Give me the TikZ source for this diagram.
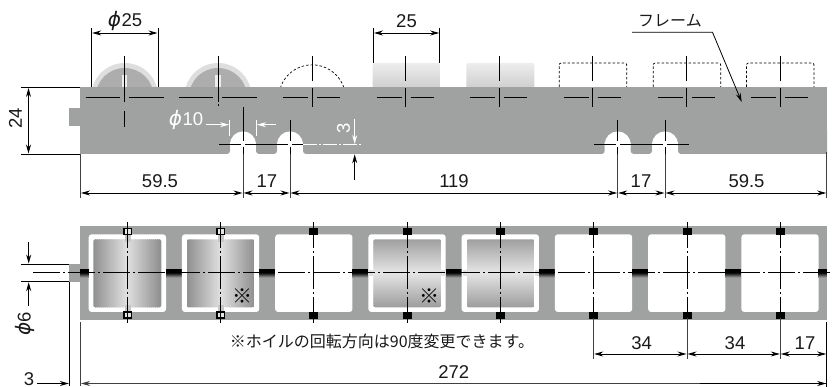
\documentclass[tikz,border=0pt]{standalone}
\usepackage{fontspec}
\setmainfont{Liberation Sans}
\newfontfamily\cjkjp{Noto Sans CJK JP}
\newfontfamily\phifont[ItalicFont=DejaVu Sans Oblique]{DejaVu Sans}
\usetikzlibrary{arrows.meta}
\definecolor{framegray}{HTML}{A0A2A1}
\tikzset{
  x=1pt,y=-1pt,
  >={Stealth[length=9pt,width=5pt]},
  cl/.style={line width=0.8pt,black},
  dim/.style={line width=0.8pt,black},
  ext/.style={line width=0.7pt,black!75},
  whiteline/.style={line width=0.8pt,white},
  num/.style={font=\fontsize{18.5}{20}\selectfont,inner sep=0pt,text=black!90},
  wnum/.style={num,text=white},
  jp/.style={font=\fontsize{16}{18}\cjkjp,inner sep=0pt,text=black!90},
  mark sym/.style={font=\fontsize{20}{20}\cjkjp,inner sep=0pt,text=black},
  dashedsil/.style={line width=0.7pt,black,dash pattern=on 2.5pt off 2pt},
}
\newcommand{\phis}{{\phifont\itshape\fontsize{20}{18}\selectfont ϕ}}
\newcommand{\wheelH}[1]{%
  \begin{scope}
    \clip[rounded corners=2pt] (#1,239.3) rectangle (#1+68,307.3);
    \foreach \k in {0,...,33}{
      \pgfmathsetmacro{\val}{44-32*(1-abs(2*(\k+0.5)/34-1))}
      \fill[black!\val] (#1+2*\k,239) rectangle (#1+2*\k+2.6,308);
    }
  \end{scope}}
\newcommand{\wheelV}[1]{%
  \begin{scope}
    \clip[rounded corners=2pt] (#1,239.3) rectangle (#1+68,307.3);
    \foreach \k in {0,...,33}{
      \pgfmathsetmacro{\val}{38-28*(1-abs(2*(\k+0.5)/34-1))}
      \fill[black!\val] (#1,239.3+2*\k) rectangle (#1+68,239.3+2*\k+2.6);
    }
  \end{scope}}
\newcommand{\band}[2]{%
  \fill[black] (#1,269) rectangle (#2,272.6);
  \foreach \k in {0,...,9}{
    \pgfmathsetmacro{\val}{\k*10}
    \fill[framegray!\val!black] (#1,272.4+0.56*\k) rectangle (#2,272.4+0.56*\k+0.8);
  }}
\begin{document}
\begin{tikzpicture}
\useasboundingbox (0,0) rectangle (838,387);
% ---------- TOP VIEW: wheels behind the frame
\foreach \c in {124.7,218}{
  \fill[black!13] (\c,96.5) circle (33.5pt);
  \fill[black!32] (\c,97) circle (29pt);
  \fill[black!7] (\c-2.7,75) rectangle (\c+2.7,88);
}
\draw[dashedsil] (280.3,88) arc[start angle=162,end angle=18,radius=33.5pt];
\foreach \c in {405.7,499.3}{
  \shade[top color=black!7,bottom color=black!20,rounded corners=1.5pt] (\c-33,63) rectangle (\c+35,90);
}
\foreach \c in {592.7,686.7,780}{
  \draw[dashedsil,rounded corners=2pt] (\c-33.5,87) -- (\c-33.5,63) -- (\c+34,63) -- (\c+34,87);
}
% ---------- TOP VIEW: frame
\fill[framegray] (80,87) rectangle (827,142);
\fill[framegray] (69,108) rectangle (80,126);
\foreach \a/\b in {70/230,256/277,303/604.7,630.7/652,678/837}{
  \begin{scope}
    \clip (80,100) rectangle (827,160);
    \fill[framegray,rounded corners=3pt] (\a,130) -- (\a,154) -- (\b,154) -- (\b,130) -- cycle;
  \end{scope}
}
\foreach \c in {243,290,617.7,665}{
  \fill[white] (\c,144.4) circle (13pt);
}
% centre lines of the wheels
\foreach \c in {124.7,218}{
  \draw[cl] (\c-39,97.3) -- (\c-5,97.3) (\c+4,97.3) -- (\c+39,97.3);
  \draw[cl] (\c,56) -- (\c,102) ;
}
\draw[cl] (124.7,111) -- (124.7,127);
\draw[cl] (218,104) -- (218,106);
\foreach \c in {312,405.7,499.3,592.7,686.7,780}{
  \draw[cl] (\c-29,97.3) -- (\c-4,97.3) (\c+5,97.3) -- (\c+28,97.3);
  \draw[cl] (\c,56) -- (\c,81) (\c,88) -- (\c,107.5);
}
% notch centre lines
\draw[cl] (219,144.4) -- (241,144.4) (245,144.4) -- (288,144.4) (292,144.4) -- (303,144.4);
\draw[whiteline,dash pattern=on 14pt off 2pt on 2pt off 2pt] (303,144.4) -- (362,144.4);
\draw[cl] (594,144.4) -- (616,144.4) (620,144.4) -- (663,144.4) (667,144.4) -- (689,144.4);
\draw[cl] (243,107) -- (243,141) (290,120) -- (290,141) (617.7,120) -- (617.7,141) (665,120) -- (665,141);
\draw[cl] (243,147) -- (243,154) (290,147) -- (290,154) (617.7,147) -- (617.7,154) (665,147) -- (665,154);
% extension lines
\draw[ext] (80,154) -- (80,198) (243,154) -- (243,198) (290,154) -- (290,198) (617.7,154) -- (617.7,198) (665,154) -- (665,198) (826.7,152) -- (826.7,198);
% bottom dims of the top view
\draw[dim,<->] (81,193) -- (242.5,193);
\draw[dim,<->] (243.5,193) -- (289.5,193);
\draw[dim,<->] (290.5,193) -- (617.2,193);
\draw[dim,<->] (618.2,193) -- (664.5,193);
\draw[dim,<->] (665.5,193) -- (826.2,193);
\node[num] (t595a) at (160,181) {59.5};
\node[num] (t17a) at (267,181) {17};
\node[num] (t119) at (454,181) {119};
\node[num] (t17b) at (641,181) {17};
\node[num] (t595b) at (746.5,181) {59.5};
% 24
\draw[dim] (21,87) -- (80,87) (21,154.3) -- (80,154.3);
\draw[dim,<->] (28.5,88) -- (28.5,153.5);
\node[num,rotate=90] (t24) at (15.5,118.5) {24};
% phi 25
\draw[dim] (91.7,28) -- (91.7,87) (158,28) -- (158,87);
\draw[dim,<->] (92.2,33) -- (157.5,33);
\node[num] (tp25) at (125,20.5) {\phis\hspace{0.5pt}25};
% 25
\draw[dim] (373.5,28) -- (373.5,63) (439.7,28) -- (439.7,63);
\draw[dim,<->] (374,33) -- (439.2,33);
\node[num] (t25) at (406.5,21) {25};
% frame label
\node[jp] (tfr) at (670,21) {フレーム};
\coordinate (lead1) at (632,32.3);
\coordinate (lead2) at (712.5,32.3);
\coordinate (lead3) at (741.7,102);
\draw[dim,->] (lead1) -- (lead2) -- (lead3);
% phi 10
\node[wnum] (tp10) at (186,120) {\phis\hspace{0.5pt}10};
\draw[line width=0.8pt,white,->] (206,124.7) -- (229,124.7);
\draw[line width=0.8pt,white,->] (275.5,124.7) -- (257,124.7);
\draw[line width=0.8pt,white] (229.7,120) -- (229.7,136) (256.5,120) -- (256.5,136);
% 3
\node[wnum,rotate=90] (t3a) at (343.5,128) {3};
\draw[line width=0.8pt,white,->] (354.7,119) -- (354.7,144);
\draw[dim,->] (354.7,180) -- (354.7,154.3);
% ---------- BOTTOM VIEW: frame
\fill[framegray] (80,226) rectangle (827,320);
\fill[framegray] (69,264) rectangle (80,281.7);
\foreach \i in {0,...,7}{
  \pgfmathsetmacro{\wl}{88.7+93.24*\i}
  \pgfmathsetmacro{\wr}{166+93.24*\i}
  \fill[white,rounded corners=3pt] (\wl,234.3) rectangle (\wr,312);
  \ifnum\i<7
    \pgfmathsetmacro{\nl}{\wl+93.24}
    \band{\wr}{\nl}
  \fi
}
\band{80}{88.7}
\band{818.4}{827}
% wheels seen from above
\wheelH{93.3}
\wheelH{186.6}
\foreach \w in {373.3,466.6}{
  \wheelV{\w}
  \fill[black!12] (\w-4,270) rectangle (\w,276);
  \fill[black!12] (\w+68,270) rectangle (\w+72.5,276);
}
% axle marks
\foreach \c in {127.7,220.7}{
  \fill[black!22] (\c-3,234.3) rectangle (\c+3,242);
  \fill[black!22] (\c-3,305) rectangle (\c+3,312);
  \draw[line width=1.3pt,black,fill=black!10] (\c-3.7,228.7) rectangle (\c+3.7,234.5);
  \draw[line width=1.3pt,black,fill=black!10] (\c-3.7,312) rectangle (\c+3.7,318);
}
\foreach \c in {313.7,407,500.3,593.7,687,780.3}{
  \fill[black] (\c-4.5,228) rectangle (\c+4.5,234.7);
  \fill[black] (\c-4.5,312) rectangle (\c+4.5,318.7);
}
% centre lines
\foreach \c in {127.7,220.7,313.7,407,500.3,593.7,687,780.3}{
  \draw[cl,dash pattern=on 26pt off 3pt on 2pt off 3pt on 33pt off 3pt on 2pt off 3pt on 30pt] (\c,222) -- (\c,322.7);
}
\draw[cl,dash pattern=on 27pt off 3pt on 2pt off 3pt] (33,272.3) -- (831,272.3);
% marks
\node[mark sym] (m1) at (242,296) {※};
\node[mark sym] (m2) at (429,296) {※};
\node[jp] (note) at (382,341.7) {※ホイルの回転方向は90度変更できます。};
% phi 6
\draw[dim] (21,264) -- (69,264) (21,281.7) -- (69,281.7);
\draw[dim,->] (28.7,242) -- (28.7,263.5);
\draw[dim,->] (28.7,306) -- (28.7,282.2);
\node[num,rotate=90] (tp6) at (25,324) {\phis\hspace{0.5pt}6};
% 3 and 272
\draw[dim] (69.3,281.7) -- (69.3,386);
\draw[ext] (80,322) -- (80,386);
\draw[dim,->] (37,383.5) -- (68.8,383.5);
\node[num] (t3b) at (29,379) {3};
\draw[ext,->] (826.2,383.5) -- (81,383.5);
\draw[dim,->] (700,383.5) -- (826.2,383.5);
\node[num] (t272) at (453.7,372) {272};
% 34 34 17
\draw[ext] (593.7,318) -- (593.7,358.7) (687,318) -- (687,358.7) (780.3,318) -- (780.3,358.7);
\draw[dim] (826.7,322) -- (826.7,388);
\draw[dim,<->] (594.2,354) -- (686.5,354);
\draw[dim,<->] (687.5,354) -- (779.8,354);
\draw[dim,<->] (780.8,354) -- (826.2,354);
\node[num] (t34a) at (641.7,342.7) {34};
\node[num] (t34b) at (735,342.7) {34};
\node[num] (t17c) at (805,342.7) {17};
\end{tikzpicture}
\end{document}
